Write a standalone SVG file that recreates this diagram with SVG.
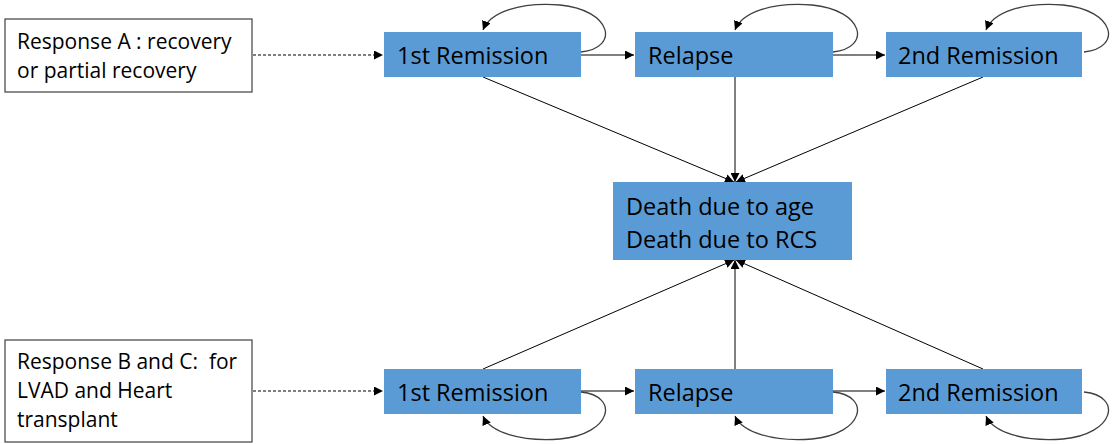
<svg xmlns="http://www.w3.org/2000/svg" width="1112" height="444" viewBox="0 0 1112 444">
<style>
.box{fill:#5B9BD5;}
.note{fill:#fff;stroke:#404040;stroke-width:1.2;}
.t{font-family:"Open Sans","Liberation Sans",sans-serif;font-size:23.5px;fill:#000;}
.n{font-family:"Open Sans","Liberation Sans",sans-serif;font-size:21px;fill:#000;white-space:pre;}
.c{fill:none;stroke:#000;stroke-width:1;}
.l{fill:none;stroke:#404040;stroke-width:1.3;}
.d{fill:none;stroke:#000;stroke-width:1;stroke-dasharray:3,2;}
</style>
<defs>
<marker id="a" viewBox="0 0 10 10" refX="10" refY="5" markerWidth="9" markerHeight="9" markerUnits="userSpaceOnUse" orient="auto">
<path d="M0,0 L10,5 L0,10 z" fill="#000"/>
</marker>
</defs>
<rect width="1112" height="444" fill="#fff"/>
<g id="connectors">
<line class="d" x1="253" y1="55" x2="383" y2="55" marker-end="url(#a)"/>
<line class="d" x1="253" y1="391" x2="383" y2="391" marker-end="url(#a)"/>
<line class="c" x1="581" y1="55" x2="634" y2="55" marker-end="url(#a)"/>
<line class="c" x1="833" y1="55" x2="885" y2="55" marker-end="url(#a)"/>
<line class="c" x1="581" y1="391" x2="634" y2="391" marker-end="url(#a)"/>
<line class="c" x1="833" y1="391" x2="885" y2="391" marker-end="url(#a)"/>
<line class="c" x1="483" y1="77" x2="734" y2="182" marker-end="url(#a)"/>
<line class="c" x1="735" y1="77" x2="735" y2="182" marker-end="url(#a)"/>
<line class="c" x1="983" y1="77" x2="736" y2="182" marker-end="url(#a)"/>
<line class="c" x1="483" y1="369" x2="734" y2="260" marker-end="url(#a)"/>
<line class="c" x1="735" y1="369" x2="735" y2="260" marker-end="url(#a)"/>
<line class="c" x1="983" y1="369" x2="736" y2="260" marker-end="url(#a)"/>
<path class="l" d="M581,52 C620,48 612,10 560,5 C520,2 490,12 483,30" marker-end="url(#a)"/>
<path class="l" d="M833,52 C872,48 864,10 812,5 C772,2 742,12 735,30" marker-end="url(#a)"/>
<path class="l" d="M1084,52 C1123,48 1115,10 1063,5 C1023,2 993,12 986,30" marker-end="url(#a)"/>
<path class="l" d="M581,392 C620,396 612,434 560,439 C520,442 490,432 483,416" marker-end="url(#a)"/>
<path class="l" d="M833,392 C872,396 864,434 812,439 C772,442 742,432 735,416" marker-end="url(#a)"/>
<path class="l" d="M1084,392 C1123,396 1115,434 1063,439 C1023,442 993,432 986,416" marker-end="url(#a)"/>
</g>
<g id="noteA"><rect class="note" x="5" y="19" width="247" height="73"/>
<text class="n" x="17" y="49">Response A : recovery</text><text class="n" x="17" y="78">or partial recovery</text></g>
<g id="noteB"><rect class="note" x="5" y="340" width="247" height="102"/>
<text class="n" x="17" y="369" xml:space="preserve">Response B and C:  for</text><text class="n" x="17" y="398">LVAD and Heart</text><text class="n" x="17" y="427">transplant</text></g>
<g id="rem1a"><rect class="box" x="384" y="32" width="197" height="45"/><text class="t" x="397" y="64">1st Remission</text></g>
<g id="relA"><rect class="box" x="635" y="32" width="198" height="45"/><text class="t" x="648" y="64">Relapse</text></g>
<g id="rem2a"><rect class="box" x="886" y="32" width="196" height="45"/><text class="t" x="898" y="64">2nd Remission</text></g>
<g id="death"><rect class="box" x="613" y="182" width="239" height="78"/><text class="t" x="626" y="215">Death due to age</text><text class="t" x="626" y="248">Death due to RCS</text></g>
<g id="rem1b"><rect class="box" x="384" y="369" width="197" height="45"/><text class="t" x="397" y="401">1st Remission</text></g>
<g id="relB"><rect class="box" x="635" y="369" width="198" height="45"/><text class="t" x="648" y="401">Relapse</text></g>
<g id="rem2b"><rect class="box" x="886" y="369" width="196" height="45"/><text class="t" x="898" y="401">2nd Remission</text></g>
</svg>
